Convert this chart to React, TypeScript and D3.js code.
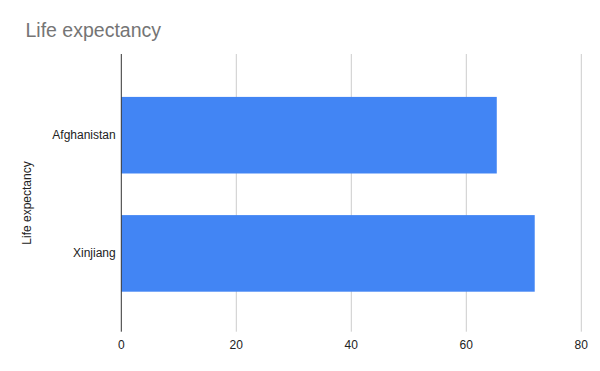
import React from "react";
import * as d3 from "d3";

const categories = ["Afghanistan", "Xinjiang"];
const values = [65.3, 71.9];
const xTicks = [0, 20, 40, 60, 80];
const title = "Life expectancy";
const yTitle = "Life expectancy";

const W = 600;
const H = 371;
const left = 121.3;
const right = 581.3;
const top = 54;
const bottom = 331.7;
const font = "Arial, 'Liberation Sans', sans-serif";

export default function App() {
  const x = d3.scaleLinear().domain([0, 80]).range([left, right]);
  const y = d3
    .scaleBand<string>()
    .domain(categories)
    .range([55.3, 333.3])
    .paddingInner(0.352)
    .paddingOuter(0.352);

  return (
    <svg
      width={W}
      height={H}
      style={{ position: "absolute", left: 0, top: 0, background: "#fff" }}
    >
      <rect x={0} y={0} width={W} height={H} fill="#fff" />
      <text x={25.5} y={37} fontFamily={font} fontSize={19.5} fill="#757575">
        {title}
      </text>
      {xTicks.map((t) =>
        t === 0 ? null : (
          <line
            key={"g" + t}
            x1={x(t)}
            x2={x(t)}
            y1={top}
            y2={bottom}
            stroke="#cccccc"
            strokeWidth={1}
          />
        )
      )}
      {categories.map((c, i) => (
        <rect
          key={c}
          x={x(0)}
          y={y(c)!}
          width={x(values[i]) - x(0)}
          height={y.bandwidth()}
          fill="#4285f4"
        />
      ))}
      <line
        x1={x(0)}
        x2={x(0)}
        y1={top}
        y2={bottom}
        stroke="#333333"
        strokeWidth={1}
      />
      {xTicks.map((t) => (
        <text
          key={"t" + t}
          x={x(t)}
          y={349}
          textAnchor="middle"
          fontFamily={font}
          fontSize={12}
          fill="#222222"
        >
          {t}
        </text>
      ))}
      {categories.map((c) => (
        <text
          key={"l" + c}
          x={115.7}
          y={y(c)! + y.bandwidth() / 2 + 4}
          textAnchor="end"
          fontFamily={font}
          fontSize={12}
          fill="#222222"
        >
          {c}
        </text>
      ))}
      <text
        transform={`translate(${31}, ${203}) rotate(-90)`}
        textAnchor="middle"
        fontFamily={font}
        fontSize={12}
        fill="#222222"
      >
        {yTitle}
      </text>
    </svg>
  );
}
